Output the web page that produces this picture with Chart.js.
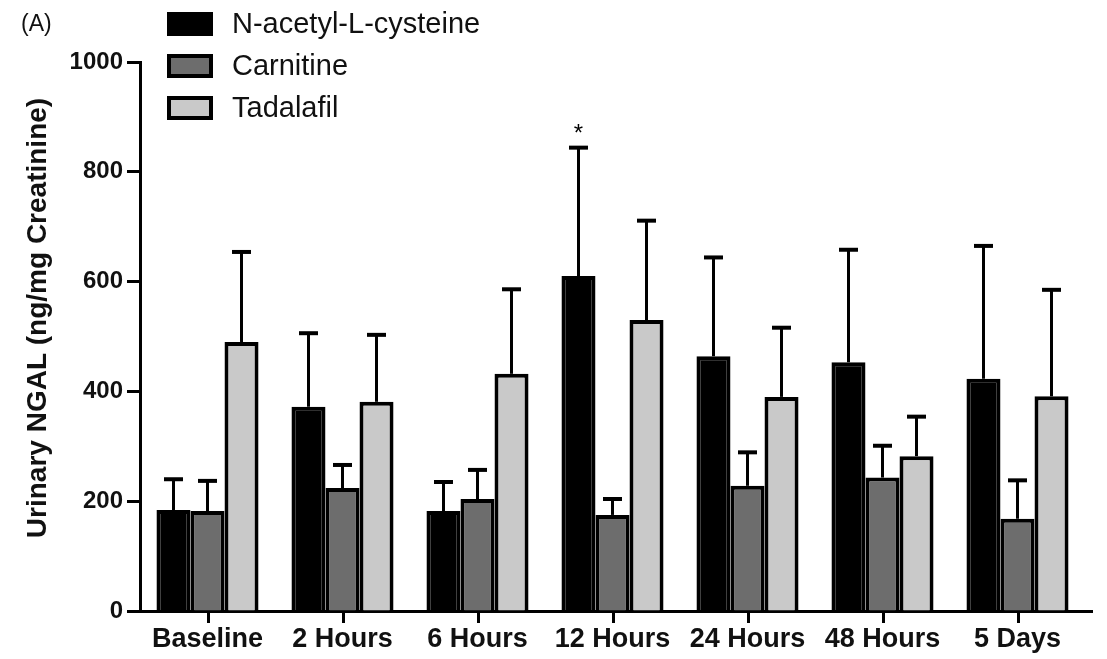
<!DOCTYPE html>
<html lang="en">
<head>
  <meta charset="UTF-8" />
  <title>Urinary NGAL</title>
  <script src="https://cdn.jsdelivr.net/npm/chart.js"></script>
  <style>
    body {
      margin: 0;
      background: #fff;
    }
    .wrap {
      width: 1107px;
      height: 659px;
      position: relative;
    }
  </style>
</head>
<body>

<div class="wrap">
  <canvas id="ngalChart"></canvas>
</div>

<script>
  const categories = ['Baseline', '2 Hours', '6 Hours', '12 Hours', '24 Hours', '48 Hours', '5 Days'];
  const seriesNames = ['N-acetyl-L-cysteine', 'Carnitine', 'Tadalafil'];

  const nacMeans = [184, 372, 182, 610, 464, 453, 423];
  const nacErr = [56, 134, 53, 234, 180, 205, 242];
  const carnMeans = [182, 224, 204, 175, 228, 243, 168];
  const carnErr = [55, 42, 53, 29, 61, 58, 70];
  const tadMeans = [490, 381, 432, 530, 390, 282, 391];
  const tadErr = [164, 122, 154, 181, 126, 72, 194];

  const yTicks = [0, 200, 400, 600, 800, 1000];
  const starMarks = [{ series: 0, index: 3 }]; // * over NAC at 12 hours

  const FONT = '"Liberation Sans", Arial, sans-serif';
  const fills = ['#000000', '#6d6d6d', '#c9c9c9'];

  // error bars (upper only) + significance star
  const errorBars = {
    id: 'errorBars',
    afterDatasetsDraw(chart) {
      const ctx = chart.ctx;
      const y = chart.scales.y;
      ctx.save();
      ctx.strokeStyle = '#000';
      chart.data.datasets.forEach((ds, di) => {
        const meta = chart.getDatasetMeta(di);
        meta.data.forEach((bar, i) => {
          const top = y.getPixelForValue(ds.data[i] + ds.errors[i]);
          const base = y.getPixelForValue(ds.data[i]);
          ctx.lineWidth = 3;
          ctx.beginPath();
          ctx.moveTo(bar.x, base);
          ctx.lineTo(bar.x, top);
          ctx.stroke();
          ctx.lineWidth = 4;
          ctx.beginPath();
          ctx.moveTo(bar.x - 9.5, top);
          ctx.lineTo(bar.x + 9.5, top);
          ctx.stroke();
        });
      });
      ctx.fillStyle = '#000';
      ctx.font = '24px ' + FONT;
      ctx.textAlign = 'center';
      ctx.textBaseline = 'middle';
      starMarks.forEach(s => {
        const ds = chart.data.datasets[s.series];
        const bar = chart.getDatasetMeta(s.series).data[s.index];
        const top = y.getPixelForValue(ds.data[s.index] + ds.errors[s.index]);
        ctx.fillText('*', bar.x, top - 13);
      });
      ctx.restore();
    }
  };

  // legend, panel letter, y title, x tick marks, axis extension
  const decorations = {
    id: 'decorations',
    afterDraw(chart) {
      const ctx = chart.ctx;
      const area = chart.chartArea;
      const x = chart.scales.x;
      ctx.save();

      ctx.fillStyle = '#111';
      ctx.font = '23px ' + FONT;
      ctx.textAlign = 'left';
      ctx.textBaseline = 'middle';
      ctx.fillText('(A)', 21, 25);

      seriesNames.forEach((name, i) => {
        const cy = 24 + i * 42;
        ctx.fillStyle = '#000';
        ctx.fillRect(167, cy - 12, 46, 24);
        ctx.fillStyle = fills[i];
        ctx.fillRect(171, cy - 8, 38, 16);
        ctx.fillStyle = '#111';
        ctx.font = '29px ' + FONT;
        ctx.fillText(name, 232, cy + 1);
      });

      ctx.translate(38, 318);
      ctx.rotate(-Math.PI / 2);
      ctx.textAlign = 'center';
      ctx.font = 'bold 28px ' + FONT;
      ctx.fillText('Urinary NGAL (ng/mg Creatinine)', 0, 0);
      ctx.restore();

      // x tick marks under each group centre, and the axis running a little past the last group
      ctx.save();
      ctx.strokeStyle = '#000';
      ctx.lineWidth = 3;
      ctx.beginPath();
      ctx.moveTo(area.right - 2, area.bottom + 0.5);
      ctx.lineTo(area.right + 8, area.bottom + 0.5);
      ctx.stroke();
      categories.forEach((c, i) => {
        const px = Math.round(x.getPixelForValue(i)) + 0.5;
        ctx.beginPath();
        ctx.moveTo(px, area.bottom + 1);
        ctx.lineTo(px, area.bottom + 12);
        ctx.stroke();
      });
      ctx.restore();
    }
  };

  const makeSet = (label, data, errors, i) => ({
    label,
    data,
    errors,
    backgroundColor: fills[i],
    borderColor: '#000',
    borderWidth: 4,
    borderSkipped: 'bottom'
  });

  new Chart(document.getElementById('ngalChart'), {
    type: 'bar',
    data: {
      labels: categories,
      datasets: [
        makeSet(seriesNames[0], nacMeans, nacErr, 0),
        makeSet(seriesNames[1], carnMeans, carnErr, 1),
        makeSet(seriesNames[2], tadMeans, tadErr, 2)
      ]
    },
    options: {
      responsive: true,
      maintainAspectRatio: false,
      animation: false,
      layout: { padding: { left: 0, top: 62, right: 22, bottom: 0 } },
      datasets: { bar: { categoryPercentage: 0.756, barPercentage: 1 } },
      plugins: {
        legend: { display: false },
        tooltip: { enabled: false }
      },
      scales: {
        x: {
          grid: { display: true, drawOnChartArea: false, drawTicks: false },
          border: { color: '#000', width: 3 },
          ticks: { color: '#111', font: { family: FONT, size: 27, weight: 'bold' }, padding: 12, maxRotation: 0, autoSkip: false },
          afterFit(scale) { scale.height = 48; }
        },
        y: {
          min: yTicks[0],
          max: yTicks[yTicks.length - 1],
          afterBuildTicks(scale) { scale.ticks = yTicks.map(v => ({ value: v })); },
          grid: { drawOnChartArea: false, drawTicks: true, tickLength: 13, tickColor: '#000', tickWidth: 3 },
          border: { color: '#000', width: 3 },
          ticks: { color: '#111', font: { family: FONT, size: 24, weight: 'bold' }, padding: 4, callback: v => String(v) },
          afterFit(scale) { scale.width = 140; }
        }
      }
    },
    plugins: [errorBars, decorations]
  });
</script>

</body>
</html>
